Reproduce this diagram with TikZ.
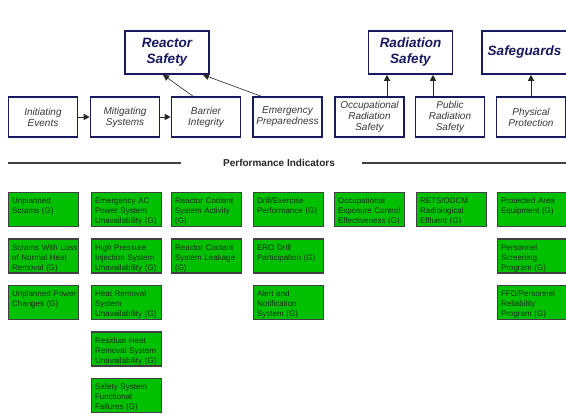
\documentclass[tikz,border=0pt]{standalone}
\usepackage{fontspec}
\setmainfont{Liberation Sans}
\usetikzlibrary{positioning}
\usetikzlibrary{arrows.meta}
\definecolor{navy}{RGB}{25,25,95}
\definecolor{boxText}{RGB}{55,55,55}
\definecolor{piGreen}{RGB}{0,192,0}
\definecolor{piText}{RGB}{25,45,25}

\begin{document}
\begin{tikzpicture}[x=1pt, y=-1pt,
	cornerstone/.style={rectangle, draw=navy, line width=1.6pt, fill=white, minimum width=84pt, minimum height=43pt, align=center, text=navy, font=\fontsize{13.5}{16}\selectfont\bfseries\itshape},
	cornerBox/.style={rectangle, draw=navy, line width=1.6pt, minimum width=69pt, minimum height=40pt, align=center, text=boxText, font=\fontsize{10}{11}\selectfont\itshape},
	indicator/.style={rectangle, draw=black!75, line width=1.2pt, fill=piGreen, anchor=north west, text width=63pt, inner xsep=3.5pt, inner ysep=3.5pt, text height=7.5pt, text depth=19.5pt, align=left, text=piText, font=\fontsize{8}{10}\selectfont},
	link/.style={-{Triangle[length=6pt,width=6pt]}, line width=0.9pt, black!85},
	ruleLine/.style={line width=1.5pt, black!75}]
	\useasboundingbox (0,0) rectangle (566,414);
		% cornerstones
		\node[cornerstone](reactorBox) at (167,52.5){Reactor\\Safety};
		\node[cornerstone](radiationBox) at (410.5,52.5){Radiation\\Safety};
		\node[cornerstone, minimum width=85pt](safeguardsBox) at (524.5,52.5){Safeguards};
		% cornerstone areas
		\node[cornerBox](initiatingBox) at (43,117){Initiating\\Events};
		\node[cornerBox](mitigatingBox) at (125,117){Mitigating\\Systems};
		\node[cornerBox](barrierBox) at (206,117){Barrier\\Integrity};
		\node[cornerBox](emergencyBox) at (287.5,117){Emergency\\Preparedness};
		\node[cornerBox](occupationalBox) at (369.5,117){Occupational\\Radiation\\Safety};
		\node[cornerBox](publicBox) at (450,117){Public\\Radiation\\Safety};
		\node[cornerBox](physicalBox) at (531,117){Physical\\Protection};
		\draw[link] (initiatingBox) -- (mitigatingBox);
		\draw[link] (mitigatingBox) -- (barrierBox);
		\draw[link, line width=0.6pt] ([xshift=-13pt]barrierBox.north) -- ([xshift=-4pt]reactorBox.south);
		\draw[link, line width=0.6pt] ([xshift=-26.5pt]emergencyBox.north) -- ([xshift=36pt]reactorBox.south);
		\draw[link] ([xshift=17.5pt]occupationalBox.north) -- ([xshift=-23.5pt]radiationBox.south);
		\draw[link] ([xshift=-17pt]publicBox.north) -- ([xshift=22.5pt]radiationBox.south);
		\draw[link] (physicalBox.north) -- (physicalBox.north |- safeguardsBox.south);
		% heading
		\node[font=\fontsize{10}{12}\selectfont\bfseries, text=black!85](piLabel) at (279,163){Performance Indicators};
		\draw[ruleLine] (8,163) -- (181,163);
		\draw[ruleLine] (362,163) -- (566,163);
		% indicators
		\node[indicator](scramsBox) at (8,192){Unplanned\\Scrams (G)};
		\node[indicator](scramsLossBox) at (8,238.5){Scrams~With~Loss\\of Normal Heat\\Removal (G)};
		\node[indicator](powerChangesBox) at (8,285){Unplanned~Power\\Changes (G)};
		\node[indicator](acPowerBox) at (91,192){Emergency AC\\Power System\\Unavailability~(G)};
		\node[indicator](hpiBox) at (91,238.5){High Pressure\\Injection~System\\Unavailability~(G)};
		\node[indicator](heatRemovalBox) at (91,285){Heat Removal\\System\\Unavailability~(G)};
		\node[indicator](residualHeatBox) at (91,331.5){Residual Heat\\Removal~System\\Unavailability~(G)};
		\node[indicator](functionalBox) at (91,378){Safety System\\Functional\\Failures (G)};
		\node[indicator](activityBox) at (171,192){Reactor~Coolant\\System~Activity\\(G)};
		\node[indicator](leakageBox) at (171,238.5){Reactor~Coolant\\System~Leakage\\(G)};
		\node[indicator](drillBox) at (253,192){Drill/Exercise\\Performance~(G)};
		\node[indicator](eroBox) at (253,238.5){ERO Drill\\Participation~(G)};
		\node[indicator](alertBox) at (253,285){Alert and\\Notification\\System (G)};
		\node[indicator](exposureBox) at (334,192){Occupational\\Exposure~Control\\Effectiveness~(G)};
		\node[indicator](effluentBox) at (416,192){RETS/ODCM\\Radiological\\Effluent (G)};
		\node[indicator](protectedBox) at (497,192){Protected~Area\\Equipment (G)};
		\node[indicator](screeningBox) at (497,238.5){Personnel\\Screening\\Program (G)};
		\node[indicator](ffdBox) at (497,285){FFD/Personnel\\Reliability\\Program (G)};
	\end{tikzpicture}
\end{document}
